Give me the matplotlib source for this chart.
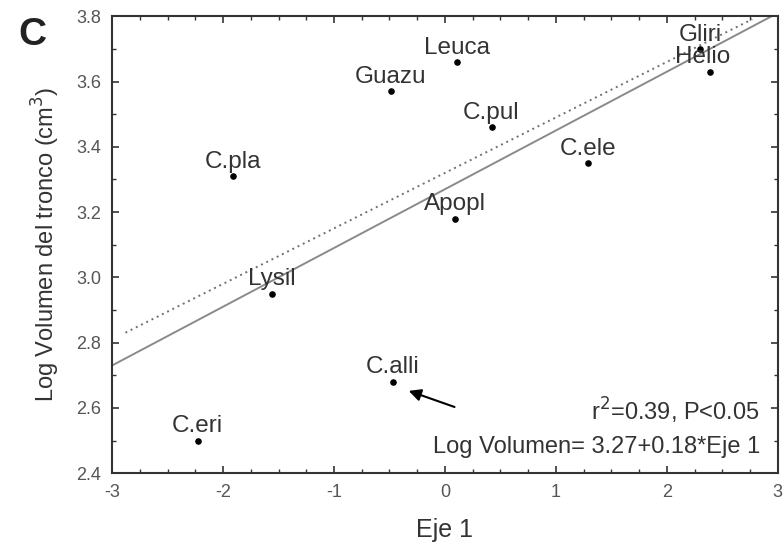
import matplotlib.pyplot as plt
import numpy as np
from matplotlib.ticker import MultipleLocator

# species scores on axis 1 vs log trunk volume
species = ["C.pla", "Guazu", "Leuca", "C.pul", "C.ele", "Apopl",
           "Gliri", "Helio", "Lysil", "C.alli", "C.eri"]
eje1 = [-1.91, -0.49, 0.11, 0.42, 1.29, 0.09, 2.30, 2.39, -1.56, -0.47, -2.23]
log_vol = [3.31, 3.57, 3.66, 3.46, 3.35, 3.18, 3.70, 3.63, 2.95, 2.68, 2.50]

# label offsets in points (dx, dy) relative to each dot
label_dx = [0, 0, 0, 0, 0, 0, 0, -5, 0, 0, 0]

# regression lines: all species (solid) and without C.alli (dotted)
fit_all = (3.27, 0.18)
fit_dot = (3.32, 0.17)
fit_dot_range = (-2.88, 2.77)

# arrow pointing at C.alli
arrow_tip = (-0.35, 2.655)
arrow_tail = (0.11, 2.60)

text_col = "#333333"
plt.rcParams['font.family'] = ['Liberation Sans', 'DejaVu Sans']
plt.rcParams['axes.unicode_minus'] = False

fig = plt.figure(figsize=(7.84, 5.42), dpi=100)
ax = fig.add_axes([0.143, 0.127, 0.849, 0.843])

xx = np.array([-3, 3])
ax.plot(xx, fit_all[0] + fit_all[1] * xx, color="#8a8a8a", lw=1.4)
xd = np.array(fit_dot_range)
ax.plot(xd, fit_dot[0] + fit_dot[1] * xd, color="#707070", lw=1.4, ls=(0, (1, 2)))

ax.scatter(eje1, log_vol, s=14, color="black", zorder=3)
for name, x, y, dx in zip(species, eje1, log_vol, label_dx):
    ax.annotate(name, (x, y), xytext=(dx, 6), textcoords="offset points",
                ha="center", va="baseline", fontsize=17.5, color=text_col)

ax.annotate("", xy=arrow_tip, xytext=arrow_tail,
            arrowprops=dict(arrowstyle="-|>", color="black", lw=1.5,
                            mutation_scale=18))

ax.text(0.973, 0.116, "r$^2$=0.39, P<0.05", transform=ax.transAxes,
        ha="right", va="baseline", fontsize=17, color=text_col)
ax.text(0.973, 0.044, "Log Volumen= 3.27+0.18*Eje 1", transform=ax.transAxes,
        ha="right", va="baseline", fontsize=17, color=text_col)

ax.set_xlim(-3, 3)
ax.set_ylim(2.4, 3.8)
ax.xaxis.set_major_locator(MultipleLocator(1))
ax.xaxis.set_minor_locator(MultipleLocator(0.25))
ax.yaxis.set_major_locator(MultipleLocator(0.2))
ax.yaxis.set_minor_locator(MultipleLocator(0.1))
ax.set_yticks(ax.get_yticks())
ax.set_yticklabels([f"{v:.1f}" for v in ax.get_yticks()])
ax.set_ylim(2.4, 3.8)
ax.tick_params(which="both", direction="in", top=True, right=True,
               colors="#333333", labelcolor="#555555", labelsize=13)
ax.tick_params(which="major", length=5, width=1.2, pad=8)
ax.tick_params(which="minor", length=3, width=1.0)
for sp in ax.spines.values():
    sp.set_linewidth(1.5)
    sp.set_color("#333333")

ax.set_xlabel("Eje 1", fontsize=18, color=text_col, labelpad=12)
ax.set_ylabel("Log Volumen del tronco (cm$^3$)", fontsize=17, color=text_col,
              labelpad=10)

fig.text(0.041, 0.935, "C", fontsize=28, fontweight="bold", ha="center",
         va="center", color="#222222")

fig.savefig("out.png", dpi=100)
